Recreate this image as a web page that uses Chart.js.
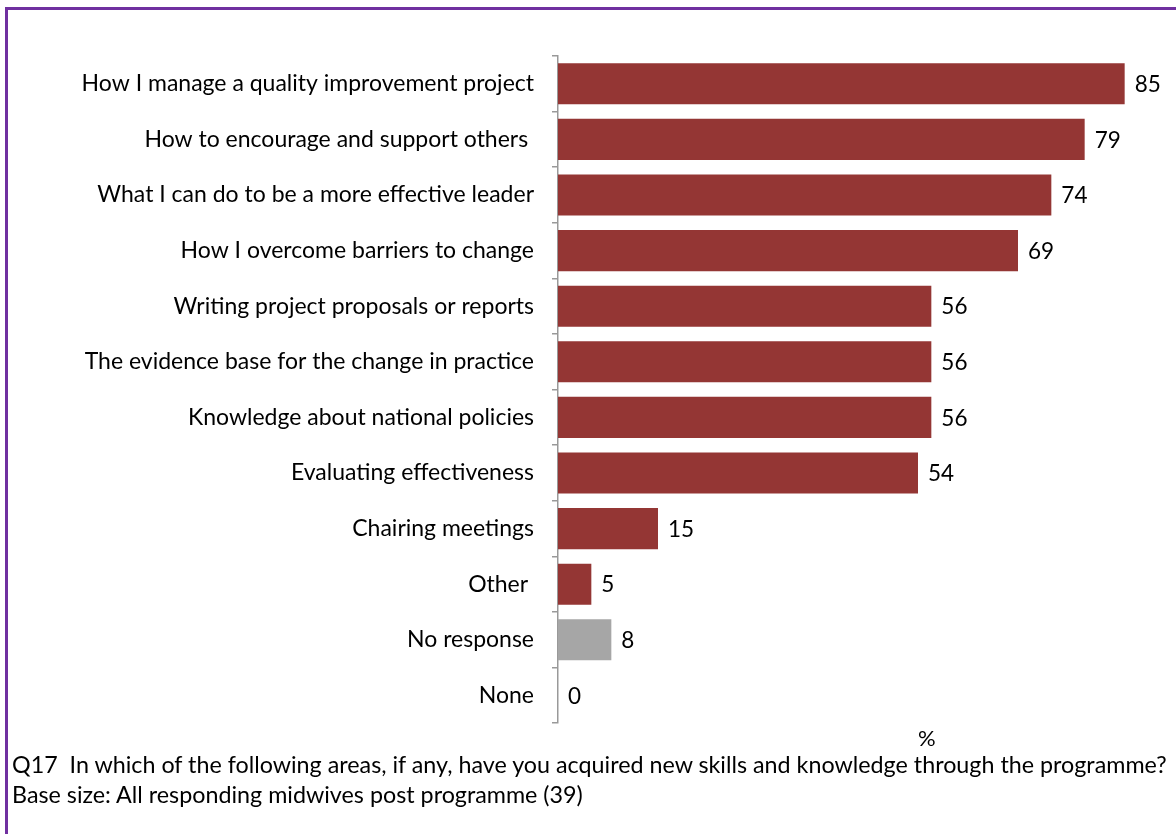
<!DOCTYPE html>
<html>
<head>
<meta charset="utf-8">
<script src="https://cdn.jsdelivr.net/npm/chart.js@4"></script>
<style>
  html, body { margin: 0; padding: 0; background: #fff; }
  body { width: 1176px; height: 834px; position: relative; overflow: hidden; font-family: Lato, sans-serif; }
  #frame { position: absolute; left: 5px; top: 7px; width: 1200px; height: 900px;
           border-top: 3px solid #7030A0; border-left: 3px solid #7030A0; }
  #wrap { position: absolute; left: 0; top: 0; width: 1176px; height: 755px; }
  #pct { position: absolute; left: 918px; top: 724px; font-size: 22px; color: #000; }
  #note { position: absolute; left: 12px; top: 749px; font-size: 23.3px; line-height: 30px; color: #000; white-space: nowrap; }
</style>
</head>
<body>
<div id="frame"></div>
<div id="wrap"><canvas id="skillsChart"></canvas></div>
<div id="pct">%</div>
<div id="note">Q17&nbsp; In which of the following areas, if any, have you acquired new skills and knowledge through the programme?<br>Base size: All responding midwives post programme (39)</div>
<script>
const areas = [
    'How I manage a quality improvement project',
    'How to encourage and support others ',
    'What I can do to be a more effective leader',
    'How I overcome barriers to change',
    'Writing project proposals or reports',
    'The evidence base for the change in practice',
    'Knowledge about national policies',
    'Evaluating effectiveness',
    'Chairing meetings',
    'Other ',
    'No response',
    'None'
];
const percents = [85, 79, 74, 69, 56, 56, 56, 54, 15, 5, 8, 0];
const barColours = ['#943634', '#943634', '#943634', '#943634', '#943634', '#943634',
                    '#943634', '#943634', '#943634', '#943634', '#A6A6A6', '#943634'];

// numbers at the end of each bar
const valueLabels = {
    id: 'valueLabels',
    afterDatasetsDraw(chart) {
        const ctx = chart.ctx;
        const meta = chart.getDatasetMeta(0);
        ctx.save();
        ctx.font = '22.5px Lato';
        ctx.fillStyle = '#000';
        ctx.textBaseline = 'middle';
        ctx.textAlign = 'left';
        meta.data.forEach(function (bar, i) {
            ctx.fillText(String(percents[i]), bar.x + 10, bar.y + 1);
        });
        ctx.restore();
    }
};

const ctx = document.getElementById('skillsChart').getContext('2d');
const skillsChart = new Chart(ctx, {
    type: 'bar',
    data: {
        labels: areas,
        datasets: [{
            data: percents,
            backgroundColor: barColours,
            borderWidth: 0,
            barPercentage: 0.74,
            categoryPercentage: 1
        }]
    },
    options: {
        indexAxis: 'y',
        responsive: true,
        maintainAspectRatio: false,
        animation: false,
        layout: { padding: { top: 56, bottom: 8, right: 18, left: 0 } },
        plugins: {
            legend: { display: false },
            tooltip: { enabled: false }
        },
        scales: {
            x: {
                min: 0,
                max: 90,
                display: false
            },
            y: {
                afterFit: function (axis) { axis.width = 558; },
                border: { display: true, color: '#999', width: 1.5 },
                grid: {
                    offset: true,
                    drawOnChartArea: false,
                    drawTicks: true,
                    tickLength: 6,
                    color: '#999',
                    lineWidth: 1.5
                },
                ticks: {
                    color: '#000',
                    padding: 18,
                    font: { family: 'Lato', size: 23 }
                }
            }
        }
    },
    plugins: [valueLabels]
});
</script>
</body>
</html>
